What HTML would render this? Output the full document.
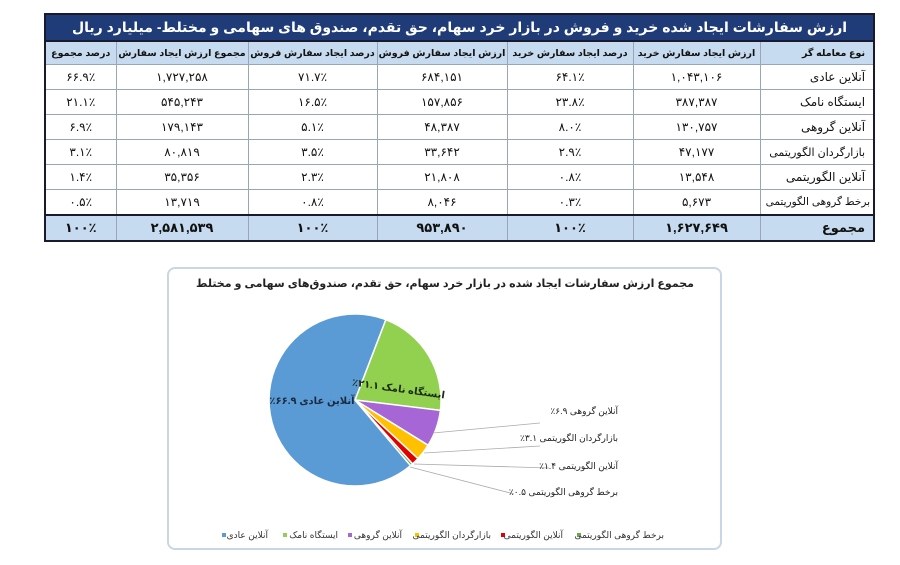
<!DOCTYPE html>
<html><head><meta charset="utf-8"><style>
body{margin:0;width:900px;height:565px;background:#fff;position:relative;overflow:hidden;font-family:"Liberation Sans","Noto Sans CJK SC","DejaVu Sans",sans-serif;}
#tb{position:absolute;left:44px;top:13px;width:829px;border-collapse:collapse;table-layout:fixed;border:2px solid #1a1a2e;}
#tb td{border:1px solid #9aa6b8;text-align:center;font-size:12px;color:#111;padding:0;height:24px;white-space:nowrap;overflow:hidden;}
#tb tr.t td{background:#1f3b78;color:#fff;font-weight:bold;font-size:14px;height:25px;border-bottom:2px solid #1a1a2e;letter-spacing:-0.3px;}
#tb tr.h td{background:#c6dbef;font-weight:bold;font-size:9.5px;height:22px;letter-spacing:-0.4px;}
#tb tr.s td{background:#c6dbef;font-weight:bold;font-size:13px;border-top:2px solid #1a1a2e;}
#tb td.n{text-align:right;padding-right:8px;}
#box{position:absolute;left:167px;top:267px;width:551px;height:279px;border:2px solid #c9d6e3;border-radius:8px;}
</style></head><body>
<table id="tb">
<colgroup><col style="width:71px"><col style="width:132px"><col style="width:129px"><col style="width:130px"><col style="width:126px"><col style="width:127px"><col style="width:114px"></colgroup>
<tr class="t"><td colspan="7" dir="rtl">ارزش سفارشات ایجاد شده خرید و فروش در بازار خرد سهام، حق تقدم، صندوق های سهامی و مختلط- میلیارد ریال</td></tr>
<tr class="h"><td>درصد مجموع</td><td>مجموع ارزش ایجاد سفارش</td><td>درصد ایجاد سفارش فروش</td><td>ارزش ایجاد سفارش فروش</td><td>درصد ایجاد سفارش خرید</td><td>ارزش ایجاد سفارش خرید</td><td class="n">نوع معامله گر</td></tr>
<tr><td>۶۶.۹٪</td><td>۱,۷۲۷,۲۵۸</td><td>۷۱.۷٪</td><td>۶۸۴,۱۵۱</td><td>۶۴.۱٪</td><td>۱,۰۴۳,۱۰۶</td><td class="n">آنلاین عادی</td></tr>
<tr><td>۲۱.۱٪</td><td>۵۴۵,۲۴۳</td><td>۱۶.۵٪</td><td>۱۵۷,۸۵۶</td><td>۲۳.۸٪</td><td>۳۸۷,۳۸۷</td><td class="n">ایستگاه نامک</td></tr>
<tr><td>۶.۹٪</td><td>۱۷۹,۱۴۳</td><td>۵.۱٪</td><td>۴۸,۳۸۷</td><td>۸.۰٪</td><td>۱۳۰,۷۵۷</td><td class="n">آنلاین گروهی</td></tr>
<tr><td>۳.۱٪</td><td>۸۰,۸۱۹</td><td>۳.۵٪</td><td>۳۳,۶۴۲</td><td>۲.۹٪</td><td>۴۷,۱۷۷</td><td class="n" style="font-size:11px">بازارگردان الگوریتمی</td></tr>
<tr><td>۱.۴٪</td><td>۳۵,۳۵۶</td><td>۲.۳٪</td><td>۲۱,۸۰۸</td><td>۰.۸٪</td><td>۱۳,۵۴۸</td><td class="n">آنلاین الگوریتمی</td></tr>
<tr><td>۰.۵٪</td><td>۱۳,۷۱۹</td><td>۰.۸٪</td><td>۸,۰۴۶</td><td>۰.۳٪</td><td>۵,۶۷۳</td><td class="n" style="font-size:10.5px;padding-right:3px">برخط گروهی الگوریتمی</td></tr>
<tr class="s"><td>۱۰۰٪</td><td>۲,۵۸۱,۵۳۹</td><td>۱۰۰٪</td><td>۹۵۳,۸۹۰</td><td>۱۰۰٪</td><td>۱,۶۲۷,۶۴۹</td><td class="n">مجموع</td></tr>
</table>
<div id="box"></div>
<svg style="position:absolute;left:0;top:0" width="900" height="565">
<text x="445" y="287" text-anchor="middle" font-size="11" font-weight="bold" fill="#222">مجموع ارزش سفارشات ایجاد شده در بازار خرد سهام، حق تقدم، صندوق‌های سهامی و مختلط</text>
<g stroke="#fff" stroke-width="1.5">
<path d="M355,400 L385.8,319.7 A86,86 0 0 1 440.4,410.4 Z" fill="#92d050"/>
<path d="M355,400 L440.4,410.4 A86,86 0 0 1 428.1,445.3 Z" fill="#a666d6"/>
<path d="M355,400 L428.1,445.3 A86,86 0 0 1 417.9,458.6 Z" fill="#ffc000"/>
<path d="M355,400 L417.9,458.6 A86,86 0 0 1 412.5,463.9 Z" fill="#e00000"/>
<path d="M355,400 L412.5,463.9 A86,86 0 0 1 410.5,465.7 Z" fill="#6aa84f"/>
<path d="M355,400 L410.5,465.7 A86,86 0 1 1 385.8,319.7 Z" fill="#5b9bd5"/>
</g>
<g stroke="#aaa" stroke-width="0.8" fill="none">
<line x1="433" y1="433" x2="540" y2="423"/>
<line x1="424" y1="453" x2="540" y2="446"/>
<line x1="414" y1="464" x2="549" y2="468"/>
<line x1="410" y1="467" x2="514" y2="494"/>
</g>
<g font-size="9" fill="#222" text-anchor="start" direction="rtl" unicode-bidi="embed">
<text x="618" y="414">آنلاین گروهی ۶.۹٪</text>
<text x="618" y="441">بازارگردان الگوریتمی ۳.۱٪</text>
<text x="618" y="469">آنلاین الگوریتمی ۱.۴٪</text>
<text x="618" y="495">برخط گروهی الگوریتمی ۰.۵٪</text>
</g>
<text x="312" y="404" text-anchor="middle" direction="rtl" unicode-bidi="embed" font-size="10" font-weight="bold" fill="#1a2a40">آنلاین عادی ۶۶.۹٪</text>
<text x="398" y="392" text-anchor="middle" direction="rtl" unicode-bidi="embed" font-size="10" font-weight="bold" fill="#1a2a10" transform="rotate(8 398 392)">ایستگاه نامک ۲۱.۱٪</text>
<g>
<rect x="222" y="533" width="4" height="4" fill="#5b9bd5"/>
<rect x="283" y="533" width="4" height="4" fill="#92d050"/>
<rect x="348" y="533" width="4" height="4" fill="#a666d6"/>
<rect x="415" y="533" width="4" height="4" fill="#ffc000"/>
<rect x="501" y="533" width="4" height="4" fill="#e00000"/>
<rect x="577" y="533" width="4" height="4" fill="#6aa84f"/>
</g>
<g font-size="9" fill="#333" text-anchor="end">
<text x="268" y="538">آنلاین عادی</text>
<text x="338" y="538">ایستگاه نامک</text>
<text x="402" y="538">آنلاین گروهی</text>
<text x="491" y="538">بازارگردان الگوریتمی</text>
<text x="563" y="538">آنلاین الگوریتمی</text>
<text x="664" y="538">برخط گروهی الگوریتمی</text>
</g>
</svg>
</body></html>
